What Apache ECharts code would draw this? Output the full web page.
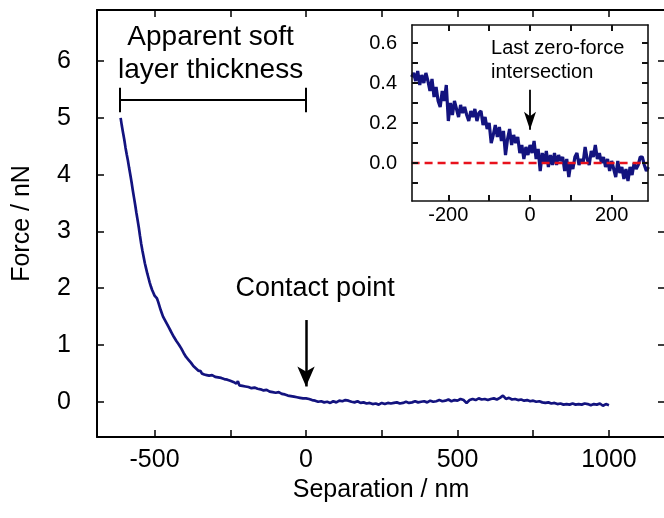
<!DOCTYPE html>
<html><head><meta charset="utf-8">
<script src="https://cdn.jsdelivr.net/npm/echarts@6/dist/echarts.min.js"></script>
<style>html,body{margin:0;padding:0;background:#fff}#c{width:664px;height:518px}</style>
</head><body><div id="c"></div>
<script>
// ---- data ----
const mainSeparation = [-612,-608,-604,-600,-596,-592,-588,-584,-580,-576,-572,-568,-564,-560,-556,-552,-548,-544,-540,-536,-532,-528,-524,-520,-516,-512,-508,-504,-500,-496,-492,-488,-484,-480,-476,-472,-468,-464,-460,-456,-452,-448,-444,-440,-436,-432,-428,-424,-420,-416,-412,-408,-404,-400,-396,-392,-388,-384,-380,-376,-372,-368,-364,-360,-356,-352,-348,-344,-340,-336,-332,-328,-324,-320,-310,-300,-290,-280,-270,-260,-250,-240,-230,-225,-220,-210,-200,-190,-180,-170,-160,-150,-140,-130,-120,-110,-100,-90,-80,-70,-60,-50,-40,-30,-20,-10,0,10,20,30,40,50,60,70,80,90,100,110,120,130,140,150,160,170,180,190,200,210,220,230,240,250,260,270,280,290,300,310,320,330,340,350,360,370,380,390,400,410,420,430,440,450,460,470,480,490,500,510,520,530,540,550,560,570,580,590,600,610,620,630,640,650,660,670,680,690,700,710,720,730,740,750,760,770,780,790,800,810,820,830,840,850,860,870,880,890,900,910,920,930,940,950,960,970,980,990,1000];
const mainForce = [5.00,4.86,4.74,4.62,4.48,4.36,4.25,4.12,4.00,3.87,3.73,3.60,3.47,3.33,3.20,3.07,2.92,2.78,2.66,2.55,2.44,2.35,2.26,2.18,2.10,2.03,1.97,1.92,1.87,1.84,1.82,1.76,1.69,1.62,1.56,1.50,1.46,1.42,1.38,1.34,1.30,1.26,1.22,1.18,1.14,1.11,1.07,1.04,1.01,0.98,0.94,0.91,0.86,0.83,0.79,0.77,0.74,0.71,0.69,0.66,0.63,0.60,0.59,0.56,0.55,0.53,0.54,0.50,0.52,0.48,0.50,0.47,0.49,0.46,0.47,0.44,0.43,0.42,0.40,0.39,0.37,0.35,0.32,0.36,0.29,0.28,0.27,0.26,0.24,0.25,0.23,0.22,0.20,0.21,0.18,0.17,0.16,0.17,0.14,0.13,0.11,0.10,0.09,0.08,0.07,0.06,0.06,0.05,0.03,0.02,0.00,0.01,-0.01,0.00,-0.02,0.01,-0.01,0.02,0.01,0.03,0.02,0.00,-0.01,0.01,-0.02,-0.01,-0.03,-0.02,-0.04,-0.03,-0.05,-0.02,-0.04,-0.02,-0.03,-0.02,-0.01,-0.03,-0.02,0.00,-0.02,-0.01,0.01,-0.01,0.00,0.01,-0.01,0.02,0.00,0.01,0.03,0.01,0.02,0.04,0.01,0.03,0.02,0.05,0.03,-0.02,0.03,0.05,0.03,0.06,0.04,0.05,0.03,0.05,0.06,0.04,0.07,0.11,0.05,0.07,0.04,0.05,0.03,0.04,0.02,0.03,0.01,0.02,0.00,0.01,-0.01,-0.02,-0.01,-0.03,-0.02,-0.04,-0.03,-0.05,-0.04,-0.05,-0.03,-0.05,-0.04,-0.05,-0.03,-0.04,-0.06,-0.04,-0.05,-0.03,-0.07,-0.04,-0.06,-0.08,-0.09];
const insetSeparation = [-290,-285,-280,-275,-270,-265,-260,-255,-250,-245,-240,-235,-230,-225,-220,-215,-210,-205,-200,-195,-190,-185,-180,-175,-170,-165,-160,-155,-150,-145,-140,-135,-130,-125,-120,-115,-110,-105,-100,-95,-90,-85,-80,-75,-70,-65,-60,-55,-50,-45,-40,-35,-30,-25,-20,-15,-10,-5,0,5,10,15,20,25,30,35,40,45,50,55,60,65,70,75,80,85,90,95,100,105,110,115,120,125,130,135,140,145,150,155,160,165,170,175,180,185,190,195,200,205,210,215,220,225,230,235,240,245,250,255,260,265,270,275,280,285,290];
const insetForce = [0.43,0.45,0.41,0.46,0.39,0.44,0.40,0.45,0.41,0.36,0.42,0.33,0.38,0.31,0.28,0.36,0.31,0.39,0.21,0.30,0.24,0.31,0.27,0.23,0.29,0.25,0.28,0.24,0.21,0.26,0.23,0.27,0.21,0.25,0.26,0.19,0.23,0.17,0.20,0.10,0.14,0.19,0.13,0.18,0.11,0.16,0.04,0.12,0.17,0.09,0.14,0.10,0.13,0.05,0.09,0.02,0.08,0.04,0.09,0.05,0.11,0.02,0.07,-0.04,0.05,0.00,0.06,-0.02,0.04,-0.01,0.05,-0.01,0.04,0.01,0.03,-0.04,0.02,-0.07,0.00,-0.03,0.03,0.05,-0.01,0.02,0.00,0.08,0.02,-0.01,0.06,0.03,0.09,0.02,0.05,0.00,0.03,-0.02,0.02,-0.04,0.01,-0.03,-0.07,0.01,-0.05,-0.02,-0.08,-0.03,-0.09,-0.02,-0.06,0.00,-0.03,-0.01,0.03,0.03,-0.01,-0.04,-0.02];
const zeroLine = [[-290, 0], [290, 0]];
const mainXTicks = [-500,-250,0,250,500,750,1000];
const mainXLabels = [-500,0,500,1000];
const mainYTicks = [0,1,2,3,4,5,6];
const insetXTicks = [-200,-100,0,100,200];
const insetXLabels = [-200,0,200];
const insetYTicks = [-0.1,0,0.1,0.2,0.3,0.4,0.5,0.6];
const insetYLabels = [0,0.2,0.4,0.6];

const FONT = "'Liberation Sans', Arial, sans-serif";
const NAVY = '#13137f';
const mainData = mainSeparation.map((x, i) => [x, mainForce[i]]);
const insetData = insetSeparation.map((x, i) => [x, insetForce[i]]);

function axis(o) {
  return {
    type: 'value', gridIndex: o.grid, position: o.pos, min: o.min, max: o.max, z: 8,
    axisLine: { show: true, onZero: false, lineStyle: { color: o.lc, width: o.lw } },
    axisTick: { show: true, inside: true, length: o.tl, customValues: o.ticks, lineStyle: { color: o.lc, width: o.tw } },
    axisLabel: o.labels ? { show: true, customValues: o.labels, margin: o.margin, fontSize: o.fs, color: '#000', fontFamily: FONT, formatter: o.fmt || (v => String(v)) } : { show: false },
    splitLine: { show: false },
    name: o.name || '', nameLocation: 'middle', nameGap: o.nameGap,
    nameTextStyle: { fontSize: o.fs, color: '#000', fontFamily: FONT }
  };
}

const chart = echarts.init(document.getElementById('c'), null, { renderer: 'canvas' });
const option = {
  animation: false,
  backgroundColor: '#fff',
  grid: [
    { left: 97, top: 10, right: -1, bottom: 81, outerBoundsMode: 'none' },
    { left: 412, top: 25, right: 16, bottom: 317, show: true, backgroundColor: '#fff', borderWidth: 0, outerBoundsMode: 'none' }
  ],
  xAxis: [
    axis({ grid: 0, pos: 'bottom', min: -690, max: 1185, lc: '#000', lw: 2, tl: 7, tw: 1.5, ticks: mainXTicks, labels: mainXLabels, margin: 11, fs: 25, name: 'Separation / nm', nameGap: 40 }),
    axis({ grid: 0, pos: 'top', min: -690, max: 1185, lc: '#000', lw: 2, tl: 7, tw: 1.5, ticks: mainXTicks }),
    axis({ grid: 1, pos: 'bottom', min: -289, max: 289, lc: '#111', lw: 1.6, tl: 6, tw: 2, ticks: insetXTicks, labels: insetXLabels, margin: 4, fs: 20 }),
    axis({ grid: 1, pos: 'top', min: -289, max: 289, lc: '#111', lw: 1.6, tl: 6, tw: 2, ticks: insetXTicks })
  ],
  yAxis: [
    axis({ grid: 0, pos: 'left', min: -0.62, max: 6.9, lc: '#000', lw: 2, tl: 7, tw: 1.5, ticks: mainYTicks, labels: mainYTicks, margin: 26, fs: 25, name: 'Force / nN', nameGap: 62 }),
    axis({ grid: 0, pos: 'right', min: -0.62, max: 6.9, lc: '#000', lw: 2, tl: 7, tw: 1.5, ticks: mainYTicks }),
    axis({ grid: 1, pos: 'left', min: -0.19, max: 0.69, lc: '#111', lw: 1.6, tl: 6, tw: 2, ticks: insetYTicks, labels: insetYLabels, margin: 15, fs: 20, fmt: v => Number(v).toFixed(1) }),
    axis({ grid: 1, pos: 'right', min: -0.19, max: 0.69, lc: '#111', lw: 1.6, tl: 6, tw: 2, ticks: insetYTicks })
  ],
  series: [
    { type: 'line', xAxisIndex: 0, yAxisIndex: 0, data: mainData, showSymbol: false, symbol: 'none',
      lineStyle: { color: NAVY, width: 2.7 }, z: 3 },
    { type: 'line', xAxisIndex: 0, yAxisIndex: 0, data: [], symbol: 'none', z: 3,
      markLine: { silent: true, symbol: ['none', 'none'], label: { show: false }, animation: false,
        lineStyle: { color: '#000', width: 2, type: 'solid' },
        data: [
          [{ coord: [-615, 5.32] }, { coord: [0, 5.32] }],
          [{ coord: [-615, 5.53] }, { coord: [-615, 5.10] }],
          [{ coord: [0, 5.53] }, { coord: [0, 5.10] }]
        ] } },
    { type: 'line', xAxisIndex: 0, yAxisIndex: 0, data: [], symbol: 'none', z: 3,
      markLine: { silent: true, symbol: ['none', 'arrow'], symbolSize: [13, 20], label: { show: false }, animation: false,
        lineStyle: { color: '#000', width: 2.5, type: 'solid' },
        data: [[{ coord: [0, 1.44] }, { coord: [0, 0.27] }]] } },
    { type: 'line', xAxisIndex: 2, yAxisIndex: 2, data: insetData, showSymbol: false, symbol: 'none',
      lineStyle: { color: NAVY, width: 3.2 }, z: 6 },
    { type: 'line', xAxisIndex: 2, yAxisIndex: 2, data: zeroLine, showSymbol: false, symbol: 'none',
      lineStyle: { color: '#e8121c', width: 2.6, type: [8, 5] }, z: 7 },
    { type: 'line', xAxisIndex: 2, yAxisIndex: 2, data: [], symbol: 'none', z: 7,
      markLine: { silent: true, symbol: ['none', 'arrow'], symbolSize: [9, 18], label: { show: false }, animation: false,
        lineStyle: { color: '#000', width: 1.8, type: 'solid' },
        data: [[{ coord: [0, 0.366] }, { coord: [0, 0.166] }]] } }
  ]
};
chart.setOption(option);

const pMain = (x, y) => chart.convertToPixel({ seriesIndex: 0 }, [x, y]);
const pInset = (x, y) => chart.convertToPixel({ seriesIndex: 3 }, [x, y]);
const a = pMain(-315, 6.13), b = pMain(30, 2.0), c = pInset(-95.5, 0.514);
chart.setOption({
  graphic: [
    { type: 'text', x: a[0], y: a[1], z: 10, style: { text: 'Apparent soft\nlayer thickness', fill: '#000', fontSize: 28, fontFamily: FONT, align: 'center', verticalAlign: 'middle', lineHeight: 33 } },
    { type: 'text', x: b[0], y: b[1], z: 10, style: { text: 'Contact point', fill: '#000', fontSize: 27, fontFamily: FONT, align: 'center', verticalAlign: 'middle' } },
    { type: 'text', x: c[0], y: c[1], z: 10, style: { text: 'Last zero-force\nintersection', fill: '#000', fontSize: 20, fontFamily: FONT, align: 'left', verticalAlign: 'middle', lineHeight: 24 } }
  ]
});
</script></body></html>
